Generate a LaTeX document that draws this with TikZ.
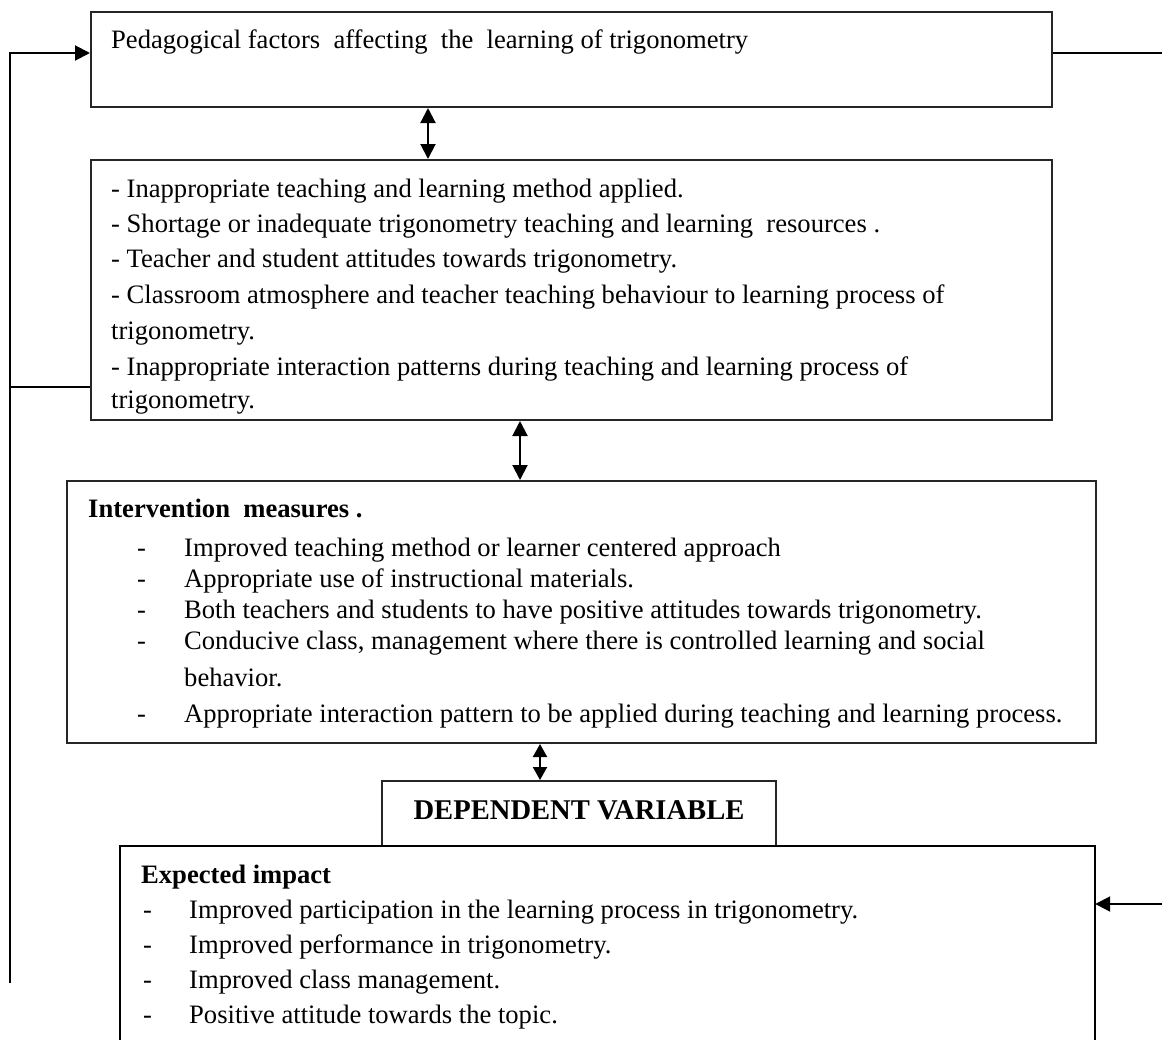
\documentclass[tikz,border=0pt]{standalone}
\usepackage{fontspec}
\setmainfont{Liberation Serif}
\usetikzlibrary{arrows.meta}
\begin{document}
\begin{tikzpicture}[x=1pt,y=-1pt,
  box/.style={draw=black!85,line width=2pt,rectangle,inner sep=0pt},
  conn/.style={draw=black,line width=2pt},
  tip/.style={-{Triangle[length=15pt,width=15pt]}},
  dtip/.style={{Triangle[length=15pt,width=15pt]}-{Triangle[length=15pt,width=15pt]}},
  stip/.style={{Triangle[length=13pt,width=14pt]}-{Triangle[length=13pt,width=14pt]}},
  txt/.style={anchor=base west,inner sep=0pt,font=\fontsize{26.6pt}{32pt}\selectfont},
  btxt/.style={anchor=base west,inner sep=0pt,font=\fontsize{26.6pt}{32pt}\selectfont\bfseries}
]
\useasboundingbox (0,0) rectangle (1162,1039);
% boxes
\node[box,minimum width=961pt,minimum height=95pt] (top) at (571.5,59.5) {};
\node[box,minimum width=961pt,minimum height=260pt] (box2) at (571.5,290) {};
\node[box,minimum width=1029pt,minimum height=262pt] (box3) at (581.5,612) {};
\node[box,minimum width=394pt,minimum height=65pt] (dv) at (579,813.5) {};
\node[inner sep=0pt,minimum width=975pt,minimum height=200pt] (impact) at (607.5,946) {};
\draw[conn] (impact.south west) -- (impact.north west) -- (impact.north east) -- (impact.south east);
% texts
\node[txt] (t0) at (111,48) {Pedagogical factors~ affecting~ the~ learning of trigonometry};
\node[txt] (b1) at (111,197) {- Inappropriate teaching and learning method applied.};
\node[txt] (b2) at (111,232) {- Shortage or inadequate trigonometry teaching and learning~ resources .};
\node[txt] (b3) at (111,267) {- Teacher and student attitudes towards trigonometry.};
\node[txt] (b4) at (111,303) {- Classroom atmosphere and teacher teaching behaviour to learning process of};
\node[txt] (b5) at (111,339) {trigonometry.};
\node[txt] (b6) at (111,375) {- Inappropriate interaction patterns during teaching and learning process of};
\node[txt] (b7) at (111,408) {trigonometry.};
\node[btxt] (c0) at (88,517) {Intervention~ measures .};
\foreach \y/\t [count=\i] in {556/Improved teaching method or learner centered approach,
  587/Appropriate use of instructional materials.,
  618/Both teachers and students to have positive attitudes towards trigonometry.,
  649/{Conducive class, management where there is controlled learning and social},
  722/Appropriate interaction pattern to be applied during teaching and learning process.}{
  \node[txt] (cd\i) at (137,\y) {-};
  \node[txt] (c\i) at (184,\y) {\t};
}
\node[txt] (c6) at (184,686) {behavior.};
\node[anchor=base,inner sep=0pt,font=\fontsize{28.6pt}{34pt}\selectfont\bfseries] (dvt) at (579,819) {DEPENDENT VARIABLE};
\node[btxt] (e0) at (141,883) {Expected impact};
\foreach \y/\t [count=\i] in {918/Improved participation in the learning process in trigonometry.,
  953/Improved performance in trigonometry.,
  988/Improved class management.,
  1023/Positive attitude towards the topic.}{
  \node[txt] (ed\i) at (143,\y) {-};
  \node[txt] (e\i) at (189,\y) {\t};
}
% connector coordinates
\coordinate (x1) at (428,0);
\coordinate (x2) at (520,0);
\coordinate (x3) at (540,0);
\coordinate (ltop) at (10,53);
\coordinate (lmid) at (10,387);
\coordinate (lend) at (10,983);
\coordinate (rtop) at (1162,53);
\coordinate (rbot) at (1162,904);
% connectors
\draw[conn,dtip] (top.south -| x1) -- (box2.north -| x1);
\draw[conn,dtip] (box2.south -| x2) -- (box3.north -| x2);
\draw[conn,stip] (box3.south -| x3) -- (dv.north -| x3);
\draw[conn,tip,line join=miter] (lend) -- (ltop) -- (top.west |- ltop);
\draw[conn] (box2.west |- lmid) -- (lmid);
\draw[conn] (top.east |- rtop) -- (rtop);
\draw[conn,tip] (rbot) -- (impact.east |- rbot);
\end{tikzpicture}
\end{document}
